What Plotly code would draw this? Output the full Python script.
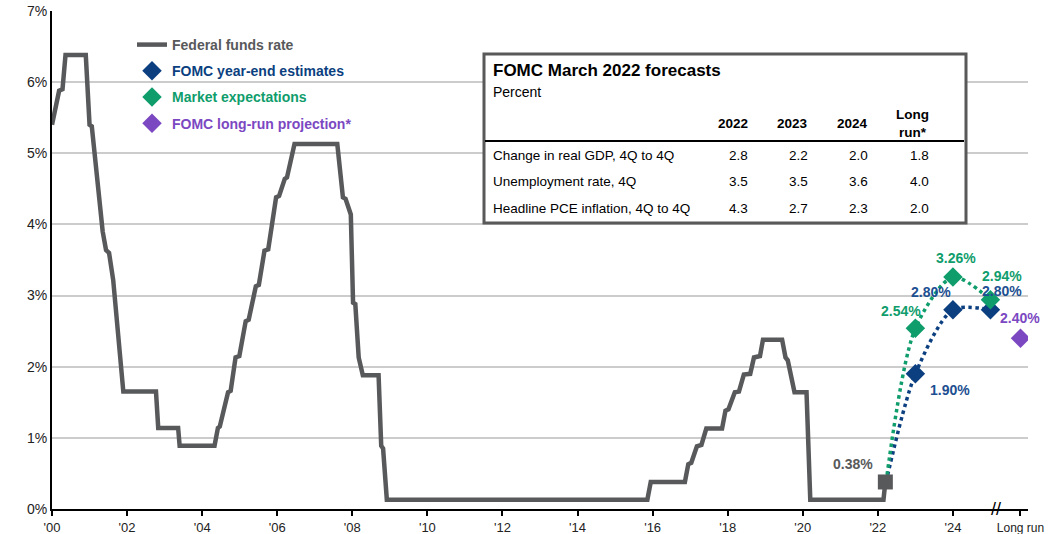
import plotly.graph_objects as go

# ---------------- data ----------------
ffr_x = [2000.0, 2000.19, 2000.28, 2000.36, 2000.9, 2001.0, 2001.06, 2001.35, 2001.44, 2001.52,
         2001.63, 2001.76, 2001.9, 2002.77, 2002.83, 2003.36, 2003.4, 2004.33, 2004.42, 2004.47,
         2004.69, 2004.76, 2004.89, 2004.99, 2005.16, 2005.24, 2005.43, 2005.51, 2005.66, 2005.76,
         2005.97, 2006.05, 2006.2, 2006.26, 2006.46, 2007.6, 2007.75, 2007.82, 2007.96, 2008.02,
         2008.08, 2008.17, 2008.28, 2008.70, 2008.77, 2008.82, 2008.92, 2015.86, 2015.95, 2016.86,
         2016.95, 2017.03, 2017.18, 2017.3, 2017.43, 2017.85, 2017.94, 2018.02, 2018.19, 2018.3,
         2018.43, 2018.6, 2018.70, 2018.86, 2018.94, 2019.45, 2019.54, 2019.6, 2019.78, 2020.1,
         2020.2, 2022.15, 2022.2]
ffr_y = [5.40, 5.88, 5.90, 6.38, 6.38, 5.40, 5.38, 3.90, 3.64, 3.60,
         3.22, 2.38, 1.65, 1.65, 1.14, 1.14, 0.89, 0.89, 1.14, 1.16,
         1.64, 1.66, 2.13, 2.15, 2.64, 2.66, 3.13, 3.15, 3.63, 3.65,
         4.38, 4.40, 4.64, 4.66, 5.13, 5.13, 4.38, 4.36, 4.14, 2.90,
         2.88, 2.13, 1.88, 1.88, 0.89, 0.85, 0.13, 0.13, 0.38, 0.38,
         0.63, 0.65, 0.88, 0.90, 1.13, 1.13, 1.38, 1.40, 1.64, 1.65,
         1.89, 1.90, 2.13, 2.15, 2.38, 2.38, 2.13, 2.09, 1.64, 1.64,
         0.13, 0.13, 0.38]

start_x = 2022.22
start_y = 0.38

fomc_x = [2023.0, 2024.0, 2025.0]
fomc_y = [1.90, 2.80, 2.80]

mkt_x = [2023.0, 2024.0, 2025.0]
mkt_y = [2.54, 3.26, 2.94]

longrun_x = [2025.8]
longrun_y = [2.40]

x_tickvals = [2000, 2002, 2004, 2006, 2008, 2010, 2012, 2014, 2016, 2018, 2020, 2022, 2024, 2025.8]
x_ticktext = ["'00", "'02", "'04", "'06", "'08", "'10", "'12", "'14", "'16", "'18", "'20", "'22", "'24",
              "<span style='font-size:12px'>Long run</span>"]
y_tickvals = [0, 1, 2, 3, 4, 5, 6, 7]
y_ticktext = ["0%", "1%", "2%", "3%", "4%", "5%", "6%", "7%"]

table_title = "FOMC March 2022 forecasts"
table_subtitle = "Percent"
table_cols = ["2022", "2023", "2024", "Long<br>run*"]
table_rows = ["Change in real GDP, 4Q to 4Q", "Unemployment rate, 4Q", "Headline PCE inflation, 4Q to 4Q"]
table_vals = [["2.8", "2.2", "2.0", "1.8"],
              ["3.5", "3.5", "3.6", "4.0"],
              ["4.3", "2.7", "2.3", "2.0"]]

# ---------------- styles ----------------
GRAY = "#58595b"
BLUE = "#0b3f80"
BLUE_T = "#1d4f91"
GREEN = "#0f9d6c"
PURPLE = "#7b48c2"
FONT = "Liberation Sans"

fig = go.Figure()

# FOMC dotted line
fig.add_trace(go.Scatter(x=[start_x] + fomc_x, y=[start_y] + fomc_y, mode="lines",
                         line=dict(color=BLUE, width=3.5, dash="dot", shape="spline", smoothing=0.8),
                         showlegend=False, hoverinfo="skip"))
# Market dotted line
fig.add_trace(go.Scatter(x=[start_x] + mkt_x, y=[start_y] + mkt_y, mode="lines",
                         line=dict(color=GREEN, width=3.5, dash="dot", shape="spline", smoothing=0.8),
                         showlegend=False, hoverinfo="skip"))

# Fed funds rate
fig.add_trace(go.Scatter(x=ffr_x, y=ffr_y, mode="lines", line=dict(color=GRAY, width=4.5),
                         name="<b><span style='color:%s'>Federal funds rate</span></b>" % GRAY,
                         legendgroup="a"))
fig.add_trace(go.Scatter(x=[ffr_x[-1]], y=[ffr_y[-1]], mode="markers",
                         marker=dict(symbol="square", size=15, color=GRAY),
                         showlegend=False, hoverinfo="skip"))

# markers
fig.add_trace(go.Scatter(x=fomc_x, y=fomc_y, mode="markers",
                         marker=dict(symbol="diamond", size=15, color=BLUE),
                         name="<b><span style='color:%s'>FOMC year-end estimates</span></b>" % BLUE,
                         legendgroup="b"))
fig.add_trace(go.Scatter(x=mkt_x, y=mkt_y, mode="markers",
                         marker=dict(symbol="diamond", size=15, color=GREEN),
                         name="<b><span style='color:%s'>Market expectations</span></b>" % GREEN,
                         legendgroup="c"))
fig.add_trace(go.Scatter(x=longrun_x, y=longrun_y, mode="markers",
                         marker=dict(symbol="diamond", size=15, color=PURPLE),
                         name="<b><span style='color:%s'>FOMC long-run projection*</span></b>" % PURPLE,
                         legendgroup="d"))

# ---------------- data labels ----------------
def lab(x, y, color, dx, dy):
    fig.add_annotation(x=x, y=y, text="<b>%.2f%%</b>" % y, showarrow=False,
                       font=dict(family=FONT, size=14, color=color), xshift=dx, yshift=dy)

lab(ffr_x[-1], ffr_y[-1], GRAY, -32, 18)
lab(fomc_x[0], fomc_y[0], BLUE_T, 35, -16)
lab(fomc_x[1], fomc_y[1], BLUE_T, -22, 18)
lab(fomc_x[2], fomc_y[2], BLUE_T, 12, 19)
lab(mkt_x[0], mkt_y[0], GREEN, -14, 17)
lab(mkt_x[1], mkt_y[1], GREEN, 3, 19)
lab(mkt_x[2], mkt_y[2], GREEN, 12, 24)
lab(longrun_x[0], longrun_y[0], PURPLE, 0, 20)

# axis break marker
fig.add_annotation(x=2025.15, y=0, text="//", showarrow=False,
                   font=dict(family=FONT, size=18, color="black"), yshift=0)

# ---------------- table inset ----------------
L, R, T, B = 52, 1028, 11, 509
W, H = R - L, B - T
px = lambda v: (v - L) / W
py = lambda v: (B - v) / H

fig.add_shape(type="rect", xref="paper", yref="paper", x0=px(484), x1=px(966), y0=py(223), y1=py(54),
              line=dict(color="#595959", width=3), fillcolor="white", layer="above")
fig.add_shape(type="line", xref="paper", yref="paper", x0=px(485), x1=px(964), y0=py(141), y1=py(141),
              line=dict(color="black", width=2), layer="above")
fig.add_annotation(xref="paper", yref="paper", x=px(491), y=py(70), xanchor="left", yanchor="middle",
                   text="<b>%s</b>" % table_title,
                   showarrow=False, font=dict(family=FONT, size=17, color="black"))
fig.add_annotation(xref="paper", yref="paper", x=px(491), y=py(92), xanchor="left", yanchor="middle",
                   text=table_subtitle, showarrow=False, font=dict(family=FONT, size=14, color="black"))
col_px = [750, 810, 870, 931]
for c, cx in zip(table_cols, col_px):
    fig.add_annotation(xref="paper", yref="paper", x=px(cx), y=py(123), yanchor="middle",
                       text="<b>%s</b>" % c,
                       showarrow=False, font=dict(family=FONT, size=13.5, color="black"))
row_py = [155, 181, 208]
for r, ry, vals in zip(table_rows, row_py, table_vals):
    fig.add_annotation(xref="paper", yref="paper", x=px(491), y=py(ry), xanchor="left", yanchor="middle",
                       text=r, showarrow=False, font=dict(family=FONT, size=13.5, color="black"))
    for v, cx in zip(vals, col_px):
        fig.add_annotation(xref="paper", yref="paper", x=px(cx), y=py(ry), yanchor="middle", text=v,
                           showarrow=False, font=dict(family=FONT, size=13.5, color="black"))

# ---------------- layout ----------------
fig.update_layout(
    width=1048, height=534,
    margin=dict(l=L, r=1048 - R, t=T, b=534 - B, autoexpand=False),
    plot_bgcolor="white", paper_bgcolor="white",
    font=dict(family=FONT, size=14, color="#222222"),
    showlegend=True,
    legend=dict(x=px(132), y=py(29), xanchor="left", yanchor="top",
                bgcolor="rgba(0,0,0,0)", font=dict(family=FONT, size=14),
                tracegroupgap=5, itemwidth=30),
    xaxis=dict(range=[2000, 2026], tickvals=x_tickvals, ticktext=x_ticktext, showgrid=False,
               showline=True, linecolor="black", linewidth=2, ticks="outside", ticklen=5,
               tickwidth=1.5, tickcolor="black", zeroline=False, automargin=False,
               ticklabelstandoff=0,
               tickfont=dict(family=FONT, size=13, color="#222222")),
    yaxis=dict(range=[0, 7], tickvals=y_tickvals, ticktext=y_ticktext, showgrid=True, gridcolor="#cccccc",
               gridwidth=1.5, showline=True, linecolor="black", linewidth=2, zeroline=False,
               ticks="", automargin=False, tickfont=dict(family=FONT, size=14, color="#222222")),
)

fig.write_html("out.html", config={"displayModeBar": False},
               post_script="document.body.style.margin='0';document.body.style.overflow='hidden';")
